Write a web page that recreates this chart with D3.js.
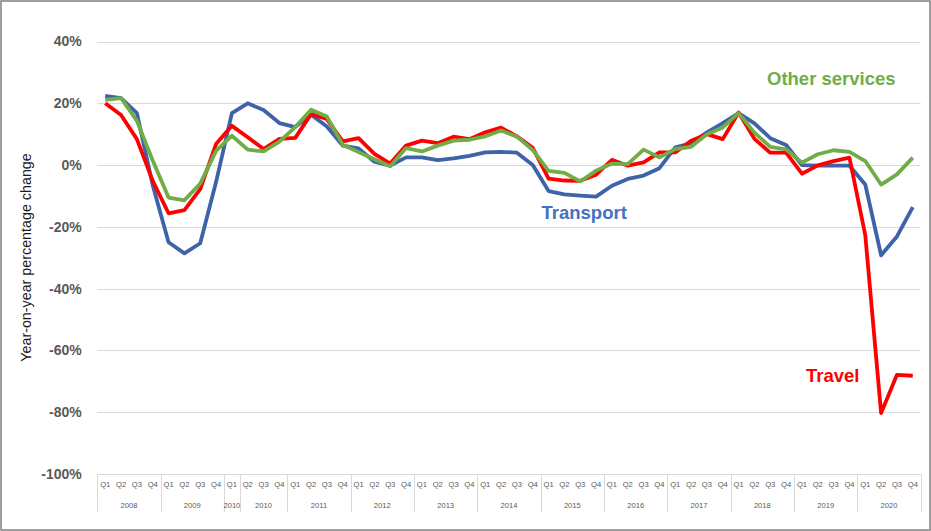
<!DOCTYPE html>
<html>
<head>
<meta charset="utf-8">
<script src="https://cdn.jsdelivr.net/npm/d3@7"></script>
<style>
  html, body { margin: 0; padding: 0; background: #fff; }
  svg { display: block; }
  text { font-family: "Liberation Sans", Arial, sans-serif; }
</style>
</head>
<body>
<svg id="chart" width="931" height="531"></svg>
<script>
// ---- Data ----
const quarters = [
  "Q1","Q2","Q3","Q4","Q1","Q2","Q3","Q4","Q1","Q2","Q3","Q4","Q1","Q2","Q3","Q4",
  "Q1","Q2","Q3","Q4","Q1","Q2","Q3","Q4","Q1","Q2","Q3","Q4","Q1","Q2","Q3","Q4",
  "Q1","Q2","Q3","Q4","Q1","Q2","Q3","Q4","Q1","Q2","Q3","Q4","Q1","Q2","Q3","Q4",
  "Q1","Q2","Q3","Q4"
];
const yearLabels = ["2008","2009","2010","2010","2011","2012","2013","2014","2015","2016","2017","2018","2019","2020"];
const yearSpans  = [4, 4, 1, 3, 4, 4, 4, 4, 4, 4, 4, 4, 4, 4];

const transport = [
  22.4, 21.7, 16.8, -6.5, -25.0, -28.6, -25.3, -5.5,
  16.8, 20.0, 17.8, 13.6, 12.3, 16.3, 12.5, 6.3,
  5.4, 1.1, -0.2, 2.5, 2.5, 1.6, 2.2, 3.0,
  4.1, 4.3, 4.0, 0.0, -8.4, -9.5, -9.9, -10.2,
  -6.7, -4.5, -3.4, -1.0, 5.7, 7.0, 10.6, 13.6,
  16.8, 13.5, 8.7, 6.5, 0.0, -0.2, -0.2, -0.2,
  -6.3, -29.2, -23.1, -13.6
];
const travel = [
  20.0, 16.2, 8.4, -5.1, -15.6, -14.6, -7.8, 6.8,
  12.7, 9.0, 5.2, 8.5, 8.8, 16.5, 14.9, 7.7,
  8.7, 3.6, 0.5, 6.3, 7.9, 7.1, 9.2, 8.4,
  10.6, 12.1, 9.3, 5.6, -4.4, -5.0, -5.1, -3.1,
  1.7, -0.2, 0.9, 4.1, 4.1, 7.9, 10.0, 8.4,
  17.0, 8.5, 4.0, 4.0, -2.8, -0.1, 1.3, 2.4,
  -22.7, -80.3, -67.9, -68.2
];
const otherServices = [
  21.1, 21.7, 14.3, 1.5, -10.5, -11.4, -6.0, 4.6,
  9.5, 5.0, 4.4, 7.6, 12.3, 17.9, 15.7, 6.6,
  4.2, 1.9, -0.4, 5.5, 4.4, 6.3, 7.9, 8.2,
  9.3, 11.2, 9.2, 4.9, -1.9, -2.5, -5.3, -1.8,
  0.5, 0.3, 5.0, 2.5, 5.2, 5.9, 10.0, 12.2,
  16.8, 10.5, 5.9, 5.1, 0.8, 3.5, 4.8, 4.3,
  1.3, -6.3, -3.0, 2.4
];
const yTicks = [40, 20, 0, -20, -40, -60, -80, -100];

const series = [
  { name: "Transport", values: transport, color: "#3E63A9", label: "Transport", labelColor: "#4472C4", lx: 541.5, ly: 218.5 },
  { name: "Travel", values: travel, color: "#FF0000", label: "Travel", labelColor: "#FF0000", lx: 806, ly: 381.5 },
  { name: "Other services", values: otherServices, color: "#70AD47", label: "Other services", labelColor: "#70AD47", lx: 767, ly: 85 }
];

// ---- Layout ----
const W = 931, H = 531;
const plot = { left: 97.3, right: 920.7, top: 41.5, bottom: 474 };

const svg = d3.select("#chart");
svg.append("rect").attr("x", 0).attr("y", 0).attr("width", W).attr("height", H).attr("fill", "#fff");

const idx = d3.range(quarters.length);
const x = d3.scaleBand().domain(idx).range([plot.left, plot.right]).padding(0);
const cx = i => x(i) + x.bandwidth() / 2;
const y = d3.scaleLinear().domain([-100, 40]).range([plot.bottom, plot.top]);

// gridlines
svg.append("g").selectAll("line").data(yTicks).join("line")
  .attr("x1", plot.left).attr("x2", plot.right)
  .attr("y1", d => Math.round(y(d)) + 0.5).attr("y2", d => Math.round(y(d)) + 0.5)
  .attr("stroke", "#d9d9d9").attr("stroke-width", 1);

// y axis labels
const yAxis = d3.axisLeft(y).tickValues(yTicks).tickSize(0).tickPadding(15.6).tickFormat(d => d + "%");
const gy = svg.append("g").attr("transform", `translate(${plot.left},0)`).call(yAxis);
gy.select(".domain").remove();
gy.selectAll("text")
  .attr("font-family", "'Liberation Sans', Arial, sans-serif")
  .attr("font-size", 14).attr("font-weight", "bold").attr("fill", "#595959");

// y axis title
svg.append("text")
  .attr("transform", `translate(30.5,257.5) rotate(-90)`)
  .attr("text-anchor", "middle")
  .attr("font-size", 14.3).attr("fill", "#1a1a1a")
  .text("Year-on-year percentage change");

// x axis: quarters
const xAxis = d3.axisBottom(x).tickSize(0).tickPadding(8).tickFormat(i => quarters[i]);
const gx = svg.append("g").attr("transform", `translate(0,${plot.bottom})`).call(xAxis);
gx.select(".domain").remove();
gx.selectAll("text")
  .attr("font-family", "'Liberation Sans', Arial, sans-serif")
  .attr("font-size", 7.6).attr("fill", "#595959");

// year groups
let start = 0;
const groups = yearLabels.map((lab, k) => {
  const g = { label: lab, s: start, e: start + yearSpans[k] - 1 };
  start += yearSpans[k];
  return g;
});
const sepX = [plot.left].concat(groups.map(g => x(g.e) + x.bandwidth()));
svg.append("g").selectAll("line").data(sepX).join("line")
  .attr("x1", d => Math.round(d) + 0.5).attr("x2", d => Math.round(d) + 0.5)
  .attr("y1", plot.bottom).attr("y2", 512)
  .attr("stroke", "#d9d9d9").attr("stroke-width", 1);
svg.append("g").selectAll("text").data(groups).join("text")
  .attr("x", g => (x(g.s) + x(g.e) + x.bandwidth()) / 2)
  .attr("y", 507.5)
  .attr("text-anchor", "middle")
  .attr("font-size", 7.6).attr("fill", "#595959")
  .text(g => g.label);

// lines
const line = d3.line().x((d, i) => cx(i)).y(d => y(d));
svg.append("g").selectAll("path").data(series).join("path")
  .attr("d", s => line(s.values))
  .attr("fill", "none")
  .attr("stroke", s => s.color)
  .attr("stroke-width", 3.8)
  .attr("stroke-linejoin", "round")
  .attr("stroke-linecap", "butt");

// series labels
svg.append("g").selectAll("text").data(series).join("text")
  .attr("x", s => s.lx).attr("y", s => s.ly)
  .attr("font-size", 18.5).attr("font-weight", "bold")
  .attr("fill", s => s.labelColor)
  .text(s => s.label);

// outer border
svg.append("rect").attr("x", 1).attr("y", 1).attr("width", W - 2).attr("height", H - 2)
  .attr("fill", "none").attr("stroke", "#808080").attr("stroke-width", 1.5);
</script>
</body>
</html>
